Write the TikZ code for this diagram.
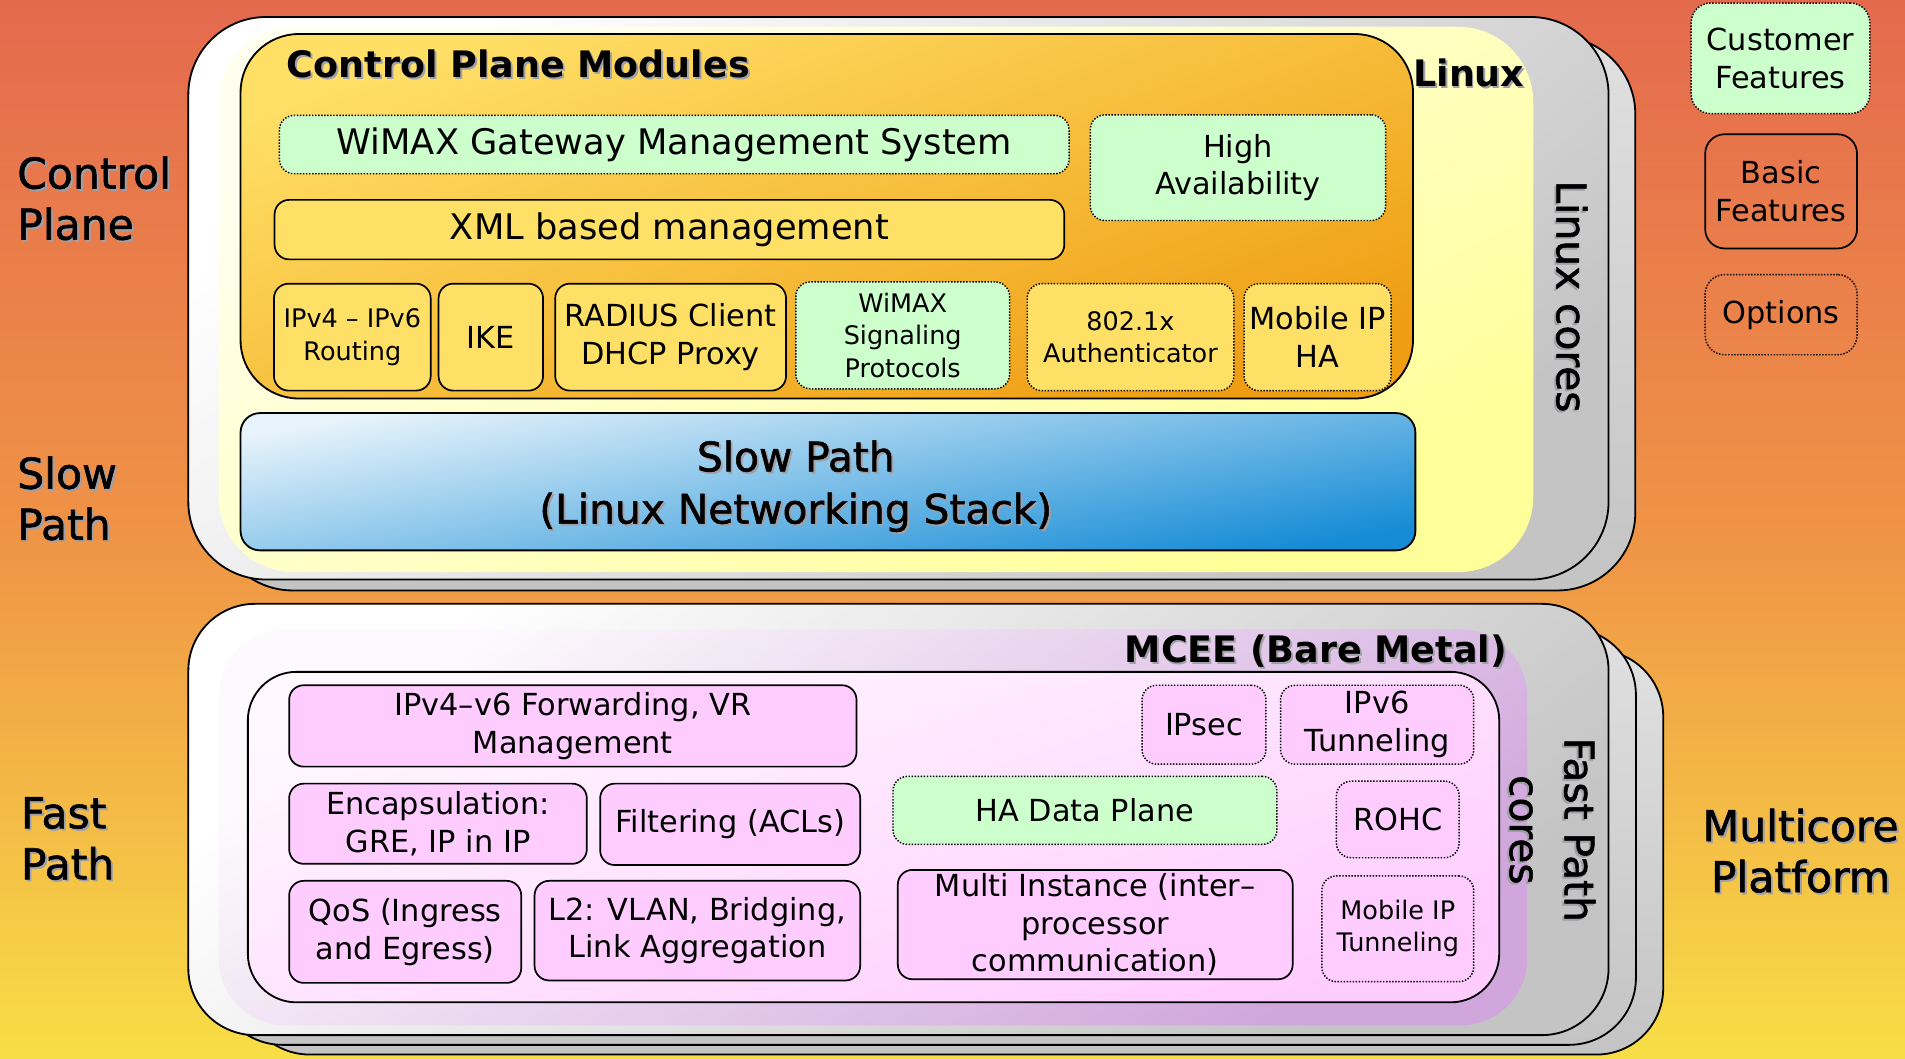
\documentclass[tikz,border=0pt]{standalone}
\usepackage{fontspec}
\setmainfont{DejaVu Sans}
\newfontfamily\medfont[FakeBold=1.3]{DejaVu Sans}
\definecolor{bgtop}{HTML}{E46A4E}
\definecolor{bgmid}{HTML}{EF9346}
\definecolor{bgbot}{HTML}{F8DE46}
\definecolor{cpyA}{HTML}{FFDF66}
\definecolor{cpyB}{HTML}{EF9E14}
\definecolor{byel}{HTML}{FFE066}
\definecolor{bgreen}{HTML}{CCFFCC}
\definecolor{bpink}{HTML}{FFCCFF}
\definecolor{ipA}{HTML}{FFF8FF}
\definecolor{ipB}{HTML}{FFCCFF}
\definecolor{lavA}{HTML}{FDFAFD}
\definecolor{lavB}{HTML}{D0A6DC}
\definecolor{lyA}{HTML}{FFFFF0}
\definecolor{lyB}{HTML}{FFFF99}
\definecolor{spA}{HTML}{E6F3FB}
\definecolor{spB}{HTML}{168CD6}
\definecolor{gA}{HTML}{FFFFFF}
\definecolor{gB}{HTML}{C4C4C4}
\definecolor{gbA}{HTML}{E0E0E0}
\definecolor{gbB}{HTML}{C4C4C4}
\definecolor{shadowc}{HTML}{A0A0A8}
\newcommand\fsBig{\fontsize{29}{36}\selectfont}
\newcommand\fsMid{\fontsize{25}{31}\selectfont}
\newcommand\fsSmall{\fontsize{21}{26.5}\selectfont}
\newcommand\fsTitle{\fontsize{30}{36}\selectfont\bfseries}
\newcommand\fsSide{\medfont\fontsize{35}{42}\selectfont}
\newcommand\fsSlow{\medfont\fontsize{33.5}{43}\selectfont}
\newcommand\fsRot{\medfont\fontsize{33.5}{45}\selectfont}
\newcommand\shd[1]{\leavevmode\rlap{\kern1.6pt\raisebox{-1.6pt}{\textcolor{shadowc}{#1}}}#1}
\tikzset{
  wh/.style 2 args={minimum width=#1pt, minimum height=#2pt},
  big/.style={draw=black, line width=1.5pt, inner sep=0pt},
  sb/.style={draw=black, line width=1.4pt, rounded corners=12pt, inner sep=0pt, align=center, text=black},
  dotb/.style={sb, line width=1.2pt, dash pattern=on 1.2pt off 1.3pt},
  yS/.style={sb, fill=byel},
  yD/.style={dotb, fill=byel},
  gD/.style={dotb, fill=bgreen},
  pS/.style={sb, fill=bpink},
  pD/.style={dotb, fill=bpink},
  lbl/.style={inner sep=0pt, text=black},
}
\begin{document}
\begin{tikzpicture}[x=1pt, y=-1pt]
\useasboundingbox (0,0) rectangle (1568,871);
\shade[top color=bgtop, bottom color=bgbot, middle color=bgmid] (0,0) rectangle (1568,871);

% ---------- Linux stack ----------
\node[big, rounded corners=64pt, top color=gbA, bottom color=gbB, wh={1169}{456}] (lxback) at (761.5,258) {};
\node[big, rounded corners=64pt, top color=gA, bottom color=gB, shading angle=40, wh={1169}{463}] (lxfront) at (739.5,245.5) {};
\node[inner sep=0pt, rounded corners=62pt, top color=lyA, bottom color=lyB, shading angle=28, wh={1082}{449}] (lxyellow) at (721,246.5) {};

\node[big, rounded corners=48pt, top color=cpyA, bottom color=cpyB, shading angle=20, wh={965}{300}] (cpm) at (680.5,178) {};
\node[big, rounded corners=16pt, top color=spA, bottom color=spB, shading angle=10, wh={967}{113}] (slow) at (681.5,396.5) {};
\node[lbl, font=\fsSlow, align=center] (slowtxt) at (655,401) {\shd{Slow Path}\\\shd{(Linux Networking Stack)}};

\node[lbl, font=\fsTitle, anchor=base west] (cptitle) at (236,64) {\shd{Control Plane Modules}};
\node[lbl, font=\fsTitle, anchor=base] (linuxlbl) at (1209,71) {\shd{Linux}};
\node[lbl, font=\fsRot, rotate=-90] (lxcores) at (1293,244) {\shd{Linux cores}};

\node[gD, wh={650}{48}, font=\fsBig] (wgms) at (555,119) {WiMAX Gateway Management System};
\node[gD, wh={243}{87}, font=\fsMid] (ha) at (1019,138) {High\\Availability};
\node[yS, wh={650}{49}, font=\fsBig] (xml) at (551,189) {XML based management};
\node[yS, wh={129}{88}, font=\fsSmall] (ipv4) at (290,277.5) {IPv4 – IPv6\\Routing};
\node[yS, wh={86}{88}, font=\fsMid] (ike) at (404,277.5) {IKE};
\node[yS, wh={190}{88}, font=\fsMid] (radius) at (552,277.5) {RADIUS Client\\DHCP Proxy};
\node[gD, wh={176}{88}, font=\fsSmall] (wsig) at (743,276) {WiMAX\\Signaling\\Protocols};
\node[yD, wh={170}{88}, font=\fsSmall] (auth) at (930.5,277.5) {802.1x\\Authenticator};
\node[yD, wh={121}{88}, font=\fsMid] (mip) at (1084.5,277.5) {Mobile IP\\HA};

% ---------- MCEE stack ----------
\node[big, rounded corners=55pt, top color=gbA, bottom color=gbB, wh={1169}{333}] (mc3) at (784.5,701.5) {};
\node[big, rounded corners=55pt, top color=gbA, bottom color=gbB, wh={1169}{343}] (mc2) at (762,688.5) {};
\node[big, rounded corners=55pt, top color=gA, bottom color=gB, shading angle=40, wh={1169}{355}] (mc1) at (739.5,674.5) {};
\node[inner sep=0pt, rounded corners=55pt, top color=lavA, bottom color=lavB, shading angle=35, wh={1077}{326}] (lav) at (718.5,681) {};
\node[big, rounded corners=40pt, top color=ipA, bottom color=ipB, shading angle=18, wh={1030}{272}] (inner) at (719,689) {};

\node[lbl, font=\fsTitle, anchor=base] (mceelbl) at (1083,545) {\shd{MCEE (Bare Metal)}};
\node[lbl, font=\fsRot, rotate=-90, align=center] (fpcores) at (1277,683) {\shd{Fast Path}\\\shd{cores}};

\node[pS, wh={467}{67}, font=\fsMid] (fwd) at (471.5,597.5) {IPv4–v6 Forwarding, VR\\Management};
\node[pS, wh={245}{66}, font=\fsMid] (encap) at (360.5,678) {Encapsulation:\\GRE, IP in IP};
\node[pS, wh={214}{67}, font=\fsMid] (filt) at (601,678.5) {Filtering (ACLs)};
\node[pS, wh={191}{84}, font=\fsMid] (qos) at (333.5,767) {QoS (Ingress\\and Egress)};
\node[pS, wh={268}{82}, font=\fsMid] (l2) at (574,766) {L2: VLAN, Bridging,\\Link Aggregation};
\node[pD, wh={102}{65}, font=\fsMid] (ipsec) at (991,596.5) {IPsec};
\node[pD, wh={159}{65}, font=\fsMid] (ipv6t) at (1133.5,596.5) {IPv6\\Tunneling};
\node[gD, wh={316}{56}, font=\fsMid] (hadp) at (893,667) {HA Data Plane};
\node[pD, wh={101}{63}, font=\fsMid] (rohc) at (1150.5,674.5) {ROHC};
\node[pS, wh={325}{90}, font=\fsMid] (multi) at (901.5,761) {Multi Instance (inter–\\processor\\communication)};
\node[pD, wh={125}{87}, font=\fsSmall] (mipt) at (1150.5,764.5) {Mobile IP\\Tunneling};

% ---------- side labels ----------
\node[lbl, font=\fsSide, align=left, anchor=west] (lcp) at (14,164) {\shd{Control}\\\shd{Plane}};
\node[lbl, font=\fsSide, align=left, anchor=west] (lsp) at (14,411) {\shd{Slow}\\\shd{Path}};
\node[lbl, font=\fsSide, align=left, anchor=west] (lfp) at (17,691) {\shd{Fast}\\\shd{Path}};
\node[lbl, font=\fsSide, align=center] (lmp) at (1482,701) {\shd{Multicore}\\\shd{Platform}};

% ---------- legend ----------
\node[gD, rounded corners=16pt, wh={147}{91}, font=\fsMid] (leg1) at (1465.5,48) {Customer\\Features};
\node[sb, rounded corners=16pt, wh={125}{94}, font=\fsMid] (leg2) at (1466,157.5) {Basic\\Features};
\node[dotb, rounded corners=16pt, wh={125}{66}, font=\fsMid] (leg3) at (1466,259) {Options};
\end{tikzpicture}
\end{document}
